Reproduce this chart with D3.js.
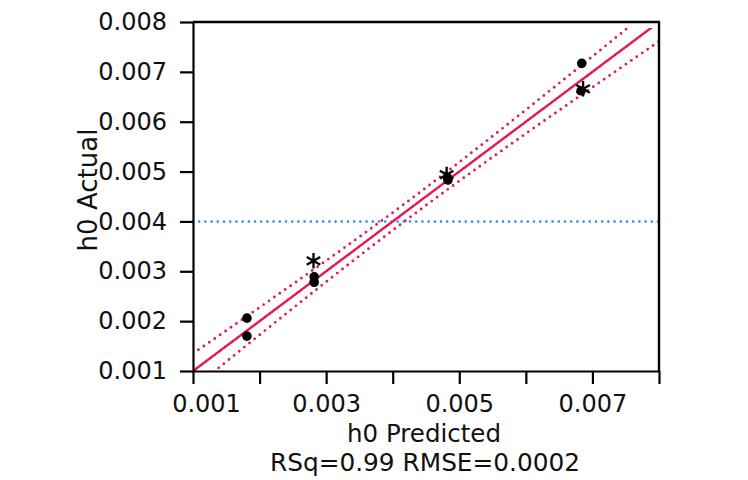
<!DOCTYPE html>
<html>
<head>
<meta charset="utf-8">
<script src="https://cdn.jsdelivr.net/npm/d3@7"></script>
<style>
  html, body { margin: 0; padding: 0; background: #fff; }
  svg { display: block; font-family: "DejaVu Sans", sans-serif; }
</style>
</head>
<body>
<svg id="chart" width="748" height="480"></svg>
<script>
// Actual by Predicted plot for h0
const predicted = [0.00181, 0.00181, 0.00281, 0.00282, 0.00282, 0.00481, 0.00482, 0.00483, 0.00684, 0.00683, 0.00686];
const actual    = [0.00206, 0.00170, 0.00321, 0.00289, 0.00278, 0.00494, 0.00488, 0.00483, 0.00717, 0.00662, 0.00666];
const markers   = ["dot", "dot", "star", "dot", "dot", "star", "dot", "dot", "dot", "dot", "star"];

const tickValues = [0.001, 0.002, 0.003, 0.004, 0.005, 0.006, 0.007, 0.008];
const xTickLabels = ["0.001", "0.003", "0.005", "0.007"];
const yTickLabels = ["0.001", "0.002", "0.003", "0.004", "0.005", "0.006", "0.007", "0.008"];

const meanActual = 0.004;   // horizontal reference line at the mean response
const rsq = 0.99;
const rmse = 0.0002;
const fCrit = 4.256;        // F(0.95; 2, n-2) for the confidence curves

const svg = d3.select("#chart");
const m = { left: 193, right: 659, top: 22, bottom: 371 };

const x = d3.scaleLinear().domain([0.001, 0.008]).range([m.left, m.right]);
const y = d3.scaleLinear().domain([0.001, 0.008]).range([m.bottom, m.top]);

// clip for the fit line and its confidence curves
svg.append("defs").append("clipPath").attr("id", "plotclip")
  .append("rect").attr("x", m.left).attr("y", m.top + 6)
  .attr("width", m.right - m.left).attr("height", m.bottom - m.top - 6);

// mean reference line
svg.append("line")
  .attr("x1", m.left).attr("x2", m.right)
  .attr("y1", y(meanActual)).attr("y2", y(meanActual))
  .attr("stroke", "#2a87e0").attr("stroke-width", 2.6)
  .attr("stroke-linecap", "round").attr("stroke-dasharray", "0,6.2");

// fit line (actual = predicted) and confidence curves
const n = predicted.length;
const xbar = d3.mean(predicted);
const sxx = d3.sum(predicted, v => (v - xbar) * (v - xbar));
const half = v => Math.sqrt(2 * fCrit) * rmse * Math.sqrt(1 / n + (v - xbar) * (v - xbar) / sxx);
const [d0, d1] = x.domain();
const grid = d3.range(0, 301).map(i => d0 + i * (d1 - d0) / 300);

const lineGen = d3.line().x(d => x(d[0])).y(d => y(d[1]));
const g = svg.append("g").attr("clip-path", "url(#plotclip)");

g.append("path")
  .attr("d", lineGen(grid.map(v => [v, v])))
  .attr("fill", "none").attr("stroke", "#e6174c").attr("stroke-width", 2.4);

[1, -1].forEach(sign => {
  g.append("path")
    .attr("d", lineGen(grid.map(v => [v, v + sign * half(v)])))
    .attr("fill", "none").attr("stroke", "#dc1f5a").attr("stroke-width", 2.9)
    .attr("stroke-linecap", "round").attr("stroke-dasharray", "0,6.6");
});

// axes
const yAxis = d3.axisLeft(y).tickValues(tickValues)
  .tickFormat((d, i) => yTickLabels[i]).tickSize(13).tickSizeOuter(0).tickPadding(13);
const xAxis = d3.axisBottom(x).tickValues(tickValues)
  .tickFormat(d => { const s = d3.format(".3f")(d); return xTickLabels.includes(s) ? s : ""; })
  .tickSize(13).tickSizeOuter(0).tickPadding(11);

const ya = svg.append("g").attr("transform", `translate(${m.left},0)`).call(yAxis);
const xa = svg.append("g").attr("transform", `translate(0,${m.bottom})`).call(xAxis);

[ya, xa].forEach(a => {
  a.selectAll("path.domain").attr("stroke", "#000").attr("stroke-width", 2.2);
  a.selectAll(".tick line").attr("stroke", "#000").attr("stroke-width", 2.2);
  a.selectAll(".tick text").attr("fill", "#111").attr("font-family", "DejaVu Sans");
});
ya.selectAll(".tick text").attr("font-size", 24);
xa.selectAll(".tick text").attr("font-size", 24);
// first x label moved clear of the y axis labels
xa.selectAll(".tick text").filter((d, i) => i === 0).attr("dx", 13);

// frame top and right
svg.append("path")
  .attr("d", `M${m.left},${m.top}H${m.right}V${m.bottom}`)
  .attr("fill", "none").attr("stroke", "#000").attr("stroke-width", 2.4);

// points
const pts = predicted.map((p, i) => ({ p, a: actual[i], k: markers[i] }));
svg.append("g").selectAll("circle")
  .data(pts.filter(d => d.k === "dot"))
  .join("circle")
  .attr("cx", d => x(d.p)).attr("cy", d => y(d.a)).attr("r", 4.8)
  .attr("fill", "#000");

const star = r => {
  let s = "";
  [90, 30, 150].forEach(deg => {
    const t = deg * Math.PI / 180;
    s += `M${-r * Math.cos(t)},${-r * Math.sin(t)}L${r * Math.cos(t)},${r * Math.sin(t)}`;
  });
  return s;
};
svg.append("g").selectAll("path")
  .data(pts.filter(d => d.k === "star"))
  .join("path")
  .attr("transform", d => `translate(${x(d.p)},${y(d.a)})`)
  .attr("d", star(7.8))
  .attr("stroke", "#000").attr("stroke-width", 2.3).attr("fill", "none");

// titles
svg.append("text")
  .attr("transform", `translate(97,190) rotate(-90)`)
  .attr("text-anchor", "middle").attr("font-size", 26).attr("fill", "#111")
  .text("h0 Actual");
svg.append("text")
  .attr("x", 424).attr("y", 442)
  .attr("text-anchor", "middle").attr("font-size", 24.5).attr("fill", "#111")
  .text("h0 Predicted");
svg.append("text")
  .attr("x", 425).attr("y", 471)
  .attr("text-anchor", "middle").attr("font-size", 24.8).attr("fill", "#111")
  .text(`RSq=${rsq} RMSE=${rmse}`);
</script>
</body>
</html>
